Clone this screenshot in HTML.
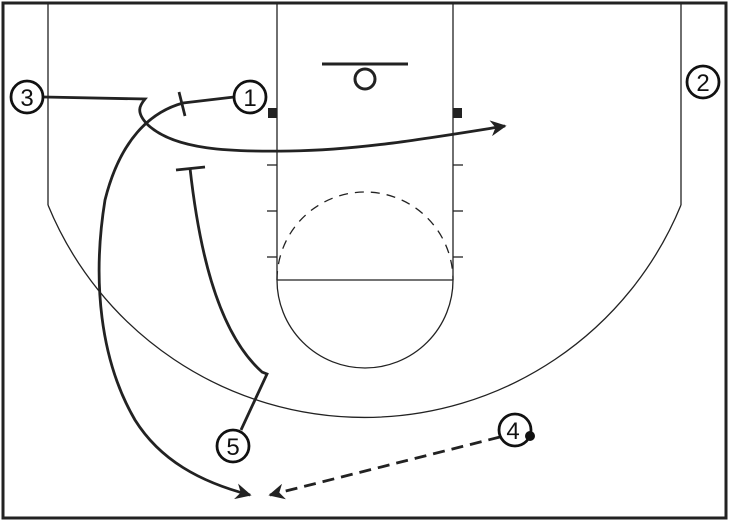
<!DOCTYPE html>
<html><head><style>html,body{margin:0;padding:0;background:#fff;}svg{display:block}</style></head>
<body>
<svg width="730" height="521" viewBox="0 0 730 521" xmlns="http://www.w3.org/2000/svg">
<defs>
<marker id="ah2" viewBox="0 0 10 10" markerWidth="20" markerHeight="16" refX="9" refY="5" orient="auto" markerUnits="userSpaceOnUse">
<path d="M0,0 L10,5 L0,10 L3,5 Z" fill="#222"/></marker>
</defs>
<rect x="3" y="3" width="723" height="515" fill="none" stroke="#222" stroke-width="3"/>
<g stroke="#222" stroke-width="1.3" fill="none">
<line x1="48" y1="3" x2="48" y2="205"/>
<line x1="681" y1="3" x2="681" y2="205"/>
<path d="M48,205 A342,342 0 0 0 681,205"/>
<line x1="277" y1="3" x2="277" y2="280"/>
<line x1="453" y1="3" x2="453" y2="280"/>
<line x1="277" y1="280" x2="453" y2="280"/>
<path d="M277,280 A88,88 0 0 0 453,280"/>
<path d="M277,280 A88,88 0 0 1 453,280" stroke-dasharray="9,7"/>
<line x1="267" y1="165" x2="277" y2="165"/><line x1="267" y1="211" x2="277" y2="211"/><line x1="267" y1="257" x2="277" y2="257"/>
<line x1="453" y1="165" x2="463" y2="165"/><line x1="453" y1="211" x2="463" y2="211"/><line x1="453" y1="257" x2="463" y2="257"/>
</g>
<line x1="322" y1="64" x2="408" y2="64" stroke="#222" stroke-width="3"/>
<circle cx="365" cy="79" r="10" fill="none" stroke="#222" stroke-width="3"/>
<rect x="268" y="108" width="9" height="10" fill="#222"/>
<rect x="453" y="108" width="9" height="10" fill="#222"/>
<g stroke="#222" stroke-width="2.8" fill="none">
<path d="M44,97 L145,99 C140,105 135,112 148,125 C175,150 230,152 290,151 C360,150 430,138 505,126" marker-end="url(#ah2)"/>
<path d="M234,97 L183,103 C150,112 120,140 105,200 C92,280 100,360 135,420 C160,460 200,482 250,495" marker-end="url(#ah2)"/>
<line x1="179" y1="92" x2="185" y2="116"/>
<path d="M190,168 C198,240 215,330 262,372 L267,374 L241,430"/>
<line x1="176" y1="170" x2="205" y2="167"/>
<path d="M500,437 L270,495" stroke-dasharray="12,7" marker-end="url(#ah2)"/>
</g>
<g stroke="#111" stroke-width="2.8" fill="#fff">
<circle cx="27" cy="97" r="16"/><circle cx="250" cy="97" r="16"/><circle cx="703" cy="82" r="16"/>
<circle cx="233" cy="446" r="16"/><circle cx="515" cy="430" r="16"/>
</g>
<circle cx="530" cy="436" r="5" fill="#111"/>
<g font-family="Liberation Sans, sans-serif" font-size="24" text-anchor="middle" fill="#111">
<text x="27" y="106">3</text><text x="250" y="106">1</text><text x="703" y="91">2</text>
<text x="233" y="455">5</text><text x="513" y="439">4</text>
</g>
</svg>
</body></html>
